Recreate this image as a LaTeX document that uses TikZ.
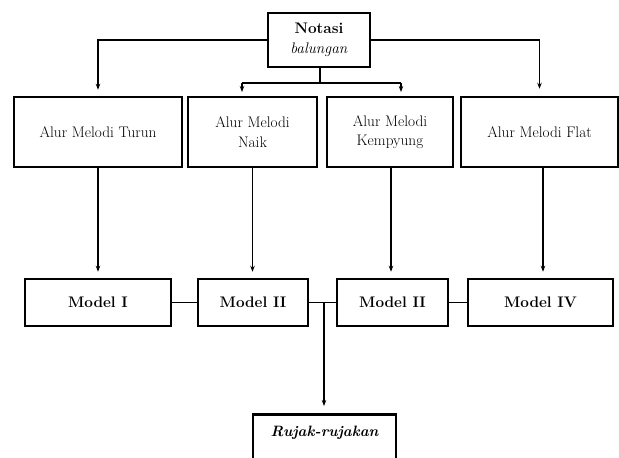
\documentclass[tikz,border=0pt]{standalone}
\usepackage{fontspec}
\usetikzlibrary{arrows.meta}
\begin{document}
\begin{tikzpicture}[x=1pt,y=-1pt,
  box/.style={draw, line width=1.5pt, inner sep=0pt, align=center,
    font=\fontsize{15.3}{19.5}\selectfont},
  thickbox/.style={box, line width=2.8pt},
  conn/.style={line width=1.2pt},
  arr/.style={conn, -{Stealth[length=6pt,width=4.5pt]}}]
\useasboundingbox (0,0) rectangle (619,458);
\clip (0,0) rectangle (619,458);
% top node
\node[thickbox, minimum width=102pt, minimum height=54pt] (notasi) at (319,40) {\textbf{Notasi}\\\textit{balungan}};
% top row
\node[box, minimum width=168pt, minimum height=70pt] (b1) at (98,132) {Alur Melodi Turun};
\node[box, minimum width=129pt, minimum height=70pt] (b2) at (252.5,132) {Alur Melodi\\Naik};
\node[box, minimum width=126pt, minimum height=70pt] (b3) at (390,132) {Alur Melodi\\Kempyung};
\node[box, minimum width=157pt, minimum height=70pt] (b4) at (539.5,132) {Alur Melodi Flat};
% model row
\node[box, minimum width=146pt, minimum height=47pt] (m1) at (98,302.5) {\textbf{Model I}};
\node[box, minimum width=110pt, minimum height=47pt] (m2) at (253,302.5) {\textbf{Model II}};
\node[box, minimum width=111pt, minimum height=47pt] (m3) at (392.5,302.5) {\textbf{Model II}};
\node[box, minimum width=145pt, minimum height=47pt] (m4) at (540.5,302.5) {\textbf{Model IV}};
% bottom
\node[thickbox, minimum width=143pt, minimum height=52pt, anchor=north] (ruj) at (324.5,413) {};
\node[font=\fontsize{15}{19}\selectfont\bfseries\itshape] (rujt) at (324.5,433) {Rujak-rujakan};
% coordinates
\coordinate (nstem) at (320,83);
\coordinate (lb) at (242,83);
\coordinate (rb) at (401,83);
\coordinate (mid) at (324,302);
% connectors from top node
\draw[arr, shorten >=6.5pt] (notasi.west) -| (b1.north);
\draw[arr, shorten >=7.5pt] (notasi.east) -| (b4.north);
\draw[conn] (notasi.south -| nstem) -- (nstem);
\draw[conn] (lb) -- (rb);
\draw[arr] (lb) -- (lb |- 0,92);
\draw[arr] (rb) -- (rb |- 0,92);
% verticals
\draw[arr, shorten >=6.5pt] (b1.south) -- (m1.north);
\draw[arr, shorten >=6.5pt] (b2.south) -- (b2.south |- m2.north);
\draw[arr, shorten >=6.5pt] (b3.south -| 391,0) -- (m3.north -| 391,0);
\draw[arr, shorten >=6.5pt] (b4.south -| 543,0) -- (m4.north -| 543,0);
% horizontal model links
\draw[conn] (m1.east) -- (m2.west);
\draw[conn] (m2.east) -- (m3.west);
\draw[conn] (m3.east) -- (m4.west);
\draw[arr, shorten >=7pt] (mid) -- (mid |- ruj.north);
\end{tikzpicture}
\end{document}
